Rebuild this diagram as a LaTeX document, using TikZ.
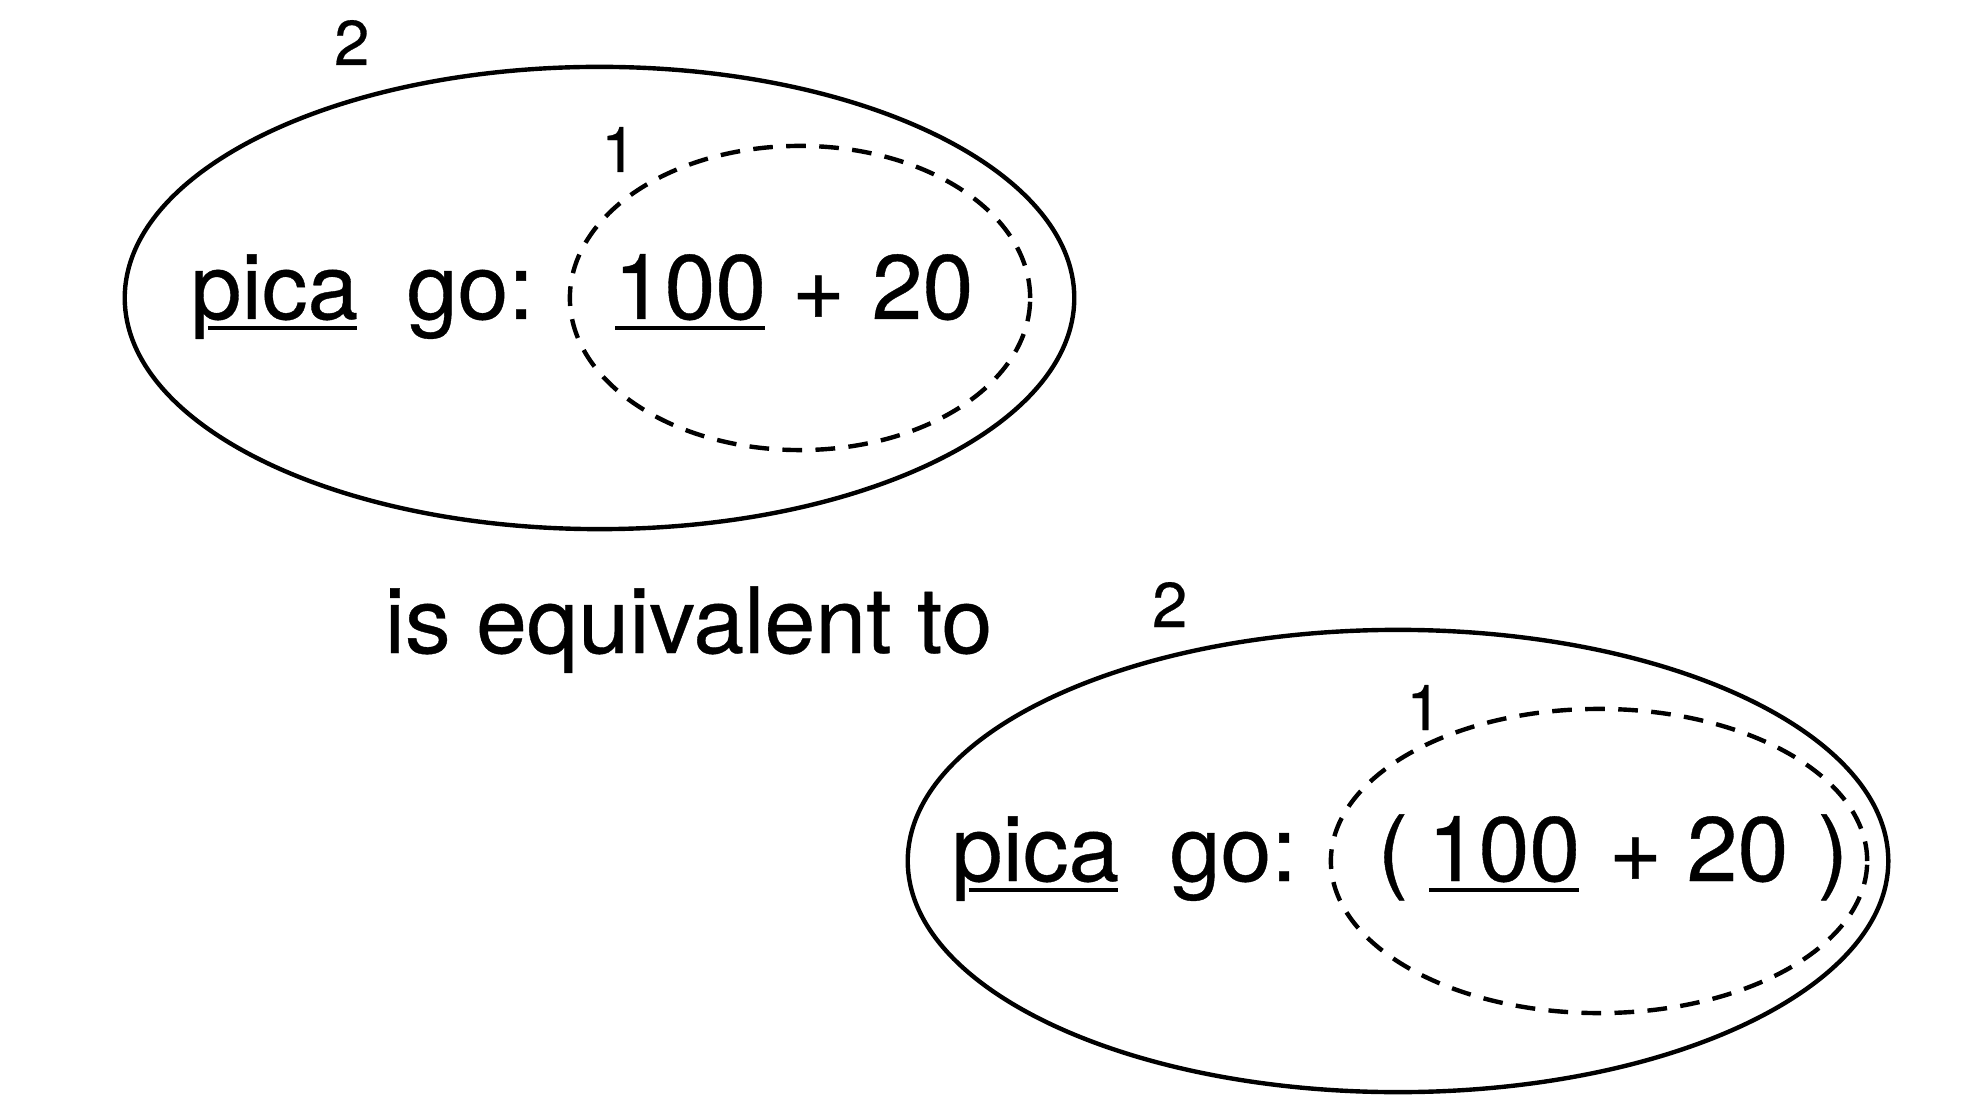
\documentclass[tikz,border=0pt]{standalone}
\usepackage{fontspec}
\setmainfont[FakeBold=0.4]{TeX Gyre Heros}
\usetikzlibrary{shapes.geometric}

\begin{document}
\begin{tikzpicture}[
    x=0.01cm, y=-0.01cm,
    ring/.style={
      ellipse,draw,line width=1.25pt,inner sep=0pt,outer sep=0pt
    },
    innerring/.style={ring,dash pattern=on 5.6pt off 3.8pt},
    word/.style={
      inner sep=0pt,anchor=base west,font=\fontsize{26}{31}\selectfont
    },
    scopeno/.style={
      inner sep=0pt,anchor=base west,font=\fontsize{18}{22}\selectfont
    },
    uline/.style={line width=1.3pt}
  ]
    \useasboundingbox (0,0) rectangle (1983,1095);

    \begin{scope}[shift={(599.5,298)}]
      \node[ring,minimum width=9.49cm,minimum height=4.62cm] (outerA) at (0,0) {};
      \node[innerring,minimum width=4.6cm,minimum height=3.04cm] (innerA) at (200.5,0) {};
      \node[word] (picaA) at (-409.5,21) {pica};
      \node[word] (goA) at (-193.5,21) {go:};
      \node[word] (hundredA) at (13.5,21) {100};
      \node[word] (plusA) at (191.5,21) {+};
      \node[word] (twentyA) at (271.5,21) {20};
      \node[scopeno] (twoA) at (-266,-233) {2};
      \node[scopeno] (oneA) at (1,-126) {1};
      \draw[uline] ([xshift=0.18cm,yshift=-0.09cm]picaA.base west) -- ([xshift=-0.02cm,yshift=-0.09cm]picaA.base east);
      \draw[uline] ([xshift=0.02cm,yshift=-0.09cm]hundredA.base west) -- ([xshift=-0.02cm,yshift=-0.09cm]hundredA.base east);
    \end{scope}

    \node[word] (equiv) at (384,653) {is equivalent to};

    \begin{scope}[shift={(1398,861)}]
      \node[ring,minimum width=9.8cm,minimum height=4.62cm] (outerB) at (0,0) {};
      \node[innerring,minimum width=5.36cm,minimum height=3.04cm] (innerB) at (201,0) {};
      \node[word] (picaB) at (-447,20) {pica};
      \node[word] (goB) at (-229,20) {go:};
      \node[word] (lparB) at (-21,20) {(};
      \node[word] (hundredB) at (29,20) {100};
      \node[word] (plusB) at (210,20) {+};
      \node[word] (twentyB) at (288,20) {20};
      \node[word] (rparB) at (419,20) {)};
      \node[scopeno] (twoB) at (-246.6,-234) {2};
      \node[scopeno] (oneB) at (7.6,-131) {1};
      \draw[uline] ([xshift=0.18cm,yshift=-0.09cm]picaB.base west) -- ([xshift=-0.02cm,yshift=-0.09cm]picaB.base east);
      \draw[uline] ([xshift=0.02cm,yshift=-0.09cm]hundredB.base west) -- ([xshift=-0.02cm,yshift=-0.09cm]hundredB.base east);
    \end{scope}
  \end{tikzpicture}
\end{document}
